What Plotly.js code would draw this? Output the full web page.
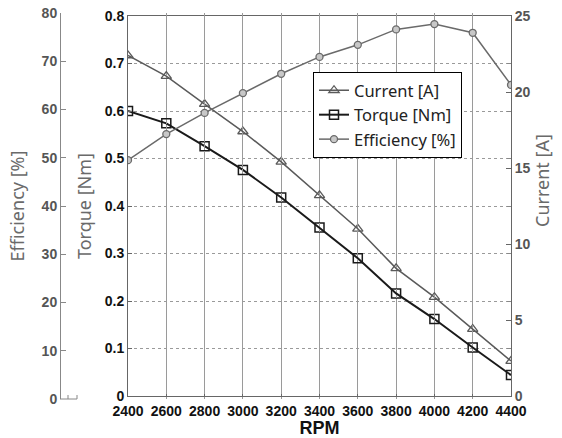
<!DOCTYPE html>
<html>
<head>
<meta charset="utf-8">
<script src="https://cdn.plot.ly/plotly-3.0.1.min.js"></script>
<style>html,body{margin:0;padding:0;background:#fff;}#chart{width:562px;height:438px;}</style>
</head>
<body>
<div id="chart"></div>
<script>
var rpm = [2400, 2600, 2800, 3000, 3200, 3400, 3600, 3800, 4000, 4200, 4400];
var currentA = [22.4, 21.05, 19.2, 17.4, 15.4, 13.2, 11.0, 8.4, 6.5, 4.4, 2.3];
var torqueNm = [0.600, 0.574, 0.526, 0.476, 0.418, 0.355, 0.290, 0.216, 0.162, 0.102, 0.044];
var efficiencyPct = [49.5, 54.9, 59.3, 63.4, 67.4, 70.9, 73.4, 76.6, 77.7, 75.9, 65.1];
var seriesNames = ["Current [A]", "Torque [Nm]", "Efficiency [%]"];
var torqueTicks = [0, 0.1, 0.2, 0.3, 0.4, 0.5, 0.6, 0.7, 0.8];

var tickFont = {family: "Liberation Sans, Arial, sans-serif", size: 14, weight: "bold", color: "#111"};
var titleFont = {family: "Noto Sans, sans-serif", size: 18, color: "#6a6a6a"};

var traces = [
  {x: rpm, y: currentA, name: seriesNames[0], xaxis: "x", yaxis: "y2", mode: "lines+markers",
   line: {color: "#5a5a5a", width: 1.5},
   marker: {symbol: "triangle-up-open", size: 9, color: "#5a5a5a", line: {width: 1.3}}},
  {x: rpm, y: torqueNm, name: seriesNames[1], xaxis: "x", yaxis: "y", mode: "lines+markers",
   line: {color: "#1a1a1a", width: 2},
   marker: {symbol: "square-open", size: 9, color: "#1a1a1a", line: {width: 1.5}}},
  {x: rpm, y: efficiencyPct, name: seriesNames[2], xaxis: "x", yaxis: "y3", mode: "lines+markers",
   line: {color: "#6a6a6a", width: 1.5},
   marker: {symbol: "circle", size: 7, color: "#c8c8c8", line: {color: "#6a6a6a", width: 1.3}}}
];

var W = 562 - 60 - 51, H = 438 - 13 - 39;
var ydom = [3 / H, 1 - 3 / H];

var layout = {
  width: 562, height: 438,
  margin: {l: 60, r: 51, t: 13, b: 39, pad: 0},
  paper_bgcolor: "#fff", plot_bgcolor: "rgba(0,0,0,0)",
  showlegend: true,
  legend: {x: (313 - 60) / W, y: (399 - 72) / H, xanchor: "left", yanchor: "top",
           bgcolor: "#fff", bordercolor: "#000", borderwidth: 1,
           font: {family: "Noto Sans, sans-serif", size: 16.5, color: "#222"},
           tracegroupgap: 0},
  xaxis: {domain: [(128 - 60) / W, 1], range: [2400, 4400], dtick: 200, tick0: 2400,
          anchor: "y", showline: true, mirror: true, linecolor: "#666", linewidth: 1,
          ticks: "inside", ticklen: 4, tickcolor: "#666", zeroline: false,
          showgrid: true, gridcolor: "#9a9a9a", griddash: "dot", gridwidth: 1,
          tickfont: tickFont, automargin: false, ticklabelstandoff: 2,
          title: {text: "RPM", font: {family: "Liberation Sans, Arial, sans-serif", size: 18, weight: "bold", color: "#111"}, standoff: 3}},
  yaxis: {domain: ydom, range: [0, 0.8], tickvals: torqueTicks, ticktext: torqueTicks.map(String),
          anchor: "x", side: "left", showline: true, linecolor: "#666", linewidth: 1,
          ticks: "inside", ticklen: 4, tickcolor: "#666", zeroline: false,
          showgrid: true, gridcolor: "#9a9a9a", griddash: "dot", gridwidth: 1,
          tickfont: tickFont, automargin: false,
          title: {text: "Torque [Nm]", font: titleFont, standoff: 8}},
  yaxis2: {overlaying: "y", side: "right", anchor: "x", range: [0, 25], dtick: 5, tick0: 0,
           showline: true, linecolor: "#666", linewidth: 1, ticks: "inside", ticklen: 5, tickcolor: "#666",
           zeroline: false, showgrid: false,
           minor: {tickvals: torqueTicks.map(function (t) { return t * 25 / 0.8; }), ticks: "inside", ticklen: 4, tickcolor: "#888", showgrid: false},
           tickfont: {family: tickFont.family, size: 14, weight: "bold", color: "#555"}, automargin: false},
  yaxis3: {domain: [0, 1], anchor: "free", position: 0, side: "left", range: [0, 80], dtick: 10, tick0: 0,
           showline: true, linecolor: "#888", linewidth: 1, ticks: "inside", ticklen: 5, tickcolor: "#888",
           zeroline: false, showgrid: false,
           tickfont: {family: tickFont.family, size: 14, weight: "bold", color: "#555"}, automargin: false,
           title: {text: "Efficiency [%]", font: titleFont, standoff: 11}},
  annotations: [
    {text: seriesNames[0], xref: "paper", yref: "paper", x: 1 + (542 - 511) / W, y: (399 - 181) / H,
     xanchor: "center", yanchor: "middle", textangle: -90, showarrow: false, font: titleFont}
  ],
  shapes: [
    {type: "path", xref: "paper", yref: "paper",
     path: "M 0 0 L " + (17 / W) + " 0 L " + (17 / W) + " " + (4 / H) + " M " + (8 / W) + " 0 L " + (8 / W) + " " + (4 / H),
     line: {color: "#888", width: 1}}
  ]
};

Plotly.newPlot("chart", traces, layout, {displayModeBar: false, staticPlot: true});
</script>
</body>
</html>
